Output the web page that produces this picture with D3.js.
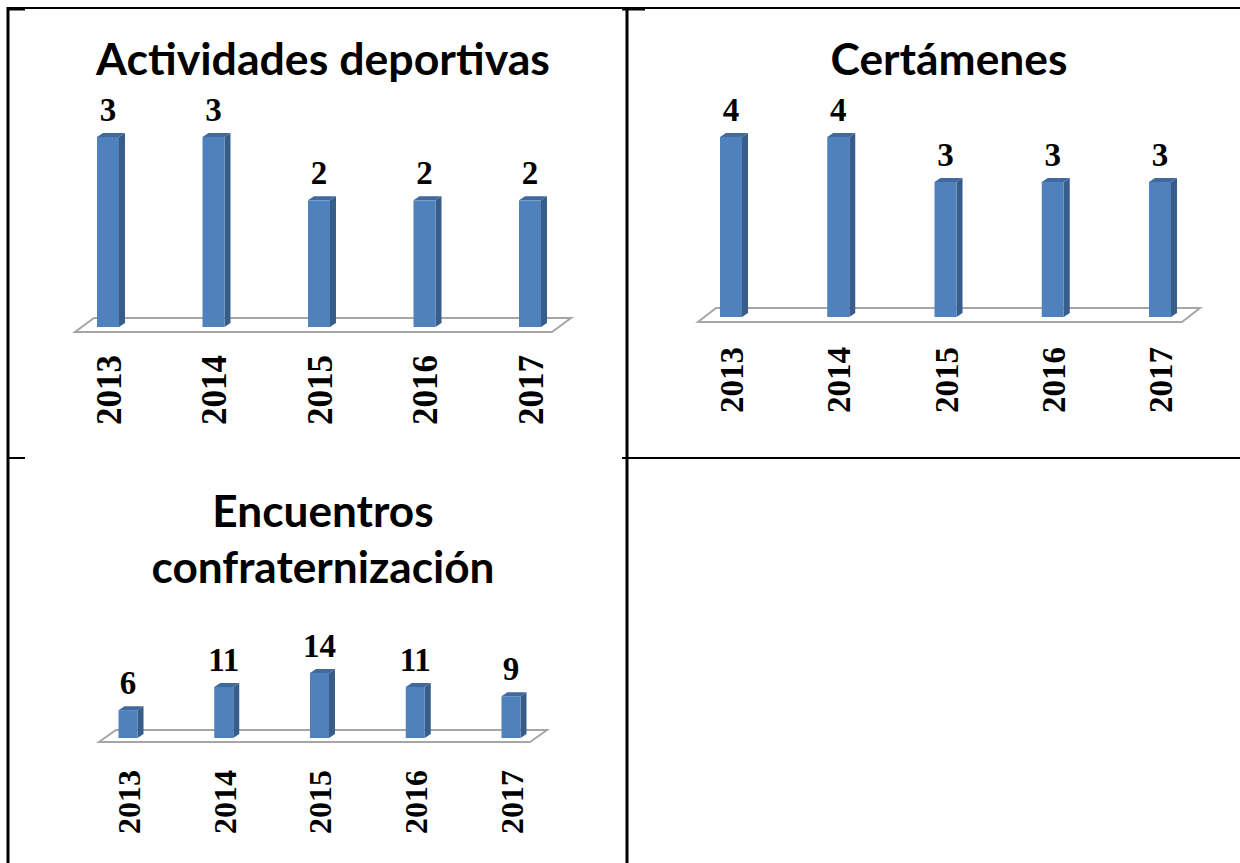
<!DOCTYPE html>
<html>
<head>
<meta charset="utf-8">
<script src="https://cdn.jsdelivr.net/npm/d3@7"></script>
<style>
  body { margin: 0; background: #fff; }
  svg { display: block; }
</style>
</head>
<body>
<svg id="chart" width="1240" height="863"></svg>
<script>
// data
const years = ["2013", "2014", "2015", "2016", "2017"];
const deportivas = [3, 3, 2, 2, 2];
const certamenes = [4, 4, 3, 3, 3];
const encuentros = [6, 11, 14, 11, 9];

const titleDeportivas = ["Actividades deportivas"];
const titleCertamenes = ["Certámenes"];
const titleEncuentros = ["Encuentros", "confraternización"];

const svg = d3.select("#chart");

let colorFront = "#4f81bd";
let colorSide = "#385d8a";
let colorTop = "#40699c";
let floorColor = "#a6a6a6";

// table lines
const grid = svg.append("g").attr("stroke", "#000");
grid.append("line").attr("x1", 8).attr("x2", 1240).attr("y1", 8).attr("y2", 8).attr("stroke-width", 2);
grid.append("line").attr("x1", 8).attr("x2", 25).attr("y1", 9).attr("y2", 9).attr("stroke-width", 3);
grid.append("line").attr("x1", 622).attr("x2", 645).attr("y1", 9).attr("y2", 9).attr("stroke-width", 3);
grid.append("line").attr("x1", 8).attr("x2", 8).attr("y1", 7).attr("y2", 863).attr("stroke-width", 3);
grid.append("line").attr("x1", 627).attr("x2", 627).attr("y1", 7).attr("y2", 863).attr("stroke-width", 3);
grid.append("line").attr("x1", 8).attr("x2", 25).attr("y1", 458).attr("y2", 458).attr("stroke-width", 2);
grid.append("line").attr("x1", 622).attr("x2", 1240).attr("y1", 458).attr("y2", 458).attr("stroke-width", 2);

const drawChart = (values, titles, cfg) => {

    const g = svg.append("g");

    // title, sized so that its longest line fits the measured width
    const t = g.append("g")
    .attr("font-family", "Lato, 'Open Sans', sans-serif")
    .attr("font-weight", "bold")
    .attr("text-anchor", "middle")
    .attr("fill", "#000");

    const longest = titles.reduce((a, b) => (b.length > a.length ? b : a));
    const probe = t.append("text").attr("font-size", 40).text(longest);
    const fs = 40 * cfg.titleWidth / probe.node().getComputedTextLength();
    probe.remove();

    t.selectAll("text")
    .data(titles)
    .join("text")
    .attr("x", cfg.titleX)
    .attr("y", (d, i) => cfg.titleY[i])
    .attr("font-size", fs)
    .text(d => d);

    const x = d3.scalePoint()
    .domain(years)
    .range(cfg.xRange);

    const y = d3.scaleLinear()
    .domain([0, d3.max(values)])
    .range(cfg.yRange);

    const base = y(0);
    const bw = cfg.barW;
    const [dx, dy] = cfg.depth;
    const f = cfg.floor;

    // floor plate
    g.append("path")
    .attr("d", `M${f.left},${f.front} L${f.right},${f.front} L${f.right + f.skew},${f.back} L${f.left + f.skew},${f.back} Z`)
    .attr("fill", "#fff")
    .attr("stroke", floorColor)
    .attr("stroke-width", 2);

    const rows = years.map((yr, i) => ({ year: yr, value: values[i] }));

    const bars = g.selectAll(".bar")
    .data(rows)
    .join("g")
    .attr("class", "bar");

    // side face
    bars.append("path")
    .attr("d", d => {
        const x1 = x(d.year) + bw / 2;
        const top = y(d.value);
        return `M${x1},${top} L${x1 + dx},${top - dy} L${x1 + dx},${base - dy} L${x1},${base} Z`;
    })
    .attr("fill", colorSide);

    // top face
    bars.append("path")
    .attr("d", d => {
        const x0 = x(d.year) - bw / 2;
        const top = y(d.value);
        return `M${x0},${top} L${x0 + dx},${top - dy} L${x0 + bw + dx},${top - dy} L${x0 + bw},${top} Z`;
    })
    .attr("fill", colorTop);

    // front face
    bars.append("rect")
    .attr("x", d => x(d.year) - bw / 2)
    .attr("y", d => y(d.value))
    .attr("width", bw)
    .attr("height", d => base - y(d.value))
    .attr("fill", colorFront);

    // value labels
    g.selectAll(".val")
    .data(rows)
    .join("text")
    .attr("class", "val")
    .attr("x", d => x(d.year))
    .attr("y", d => y(d.value) - 16)
    .attr("text-anchor", "middle")
    .attr("font-family", "'Liberation Serif', 'Times New Roman', serif")
    .attr("font-weight", "bold")
    .attr("font-size", cfg.valSize)
    .text(d => d.value);

    // category labels, rotated
    g.selectAll(".cat")
    .data(years)
    .join("text")
    .attr("class", "cat")
    .attr("transform", d => `translate(${x(d) + 1},${cfg.labelTop}) rotate(-90)`)
    .attr("text-anchor", "end")
    .attr("dy", "0.34em")
    .attr("font-family", "'Liberation Serif', 'Times New Roman', serif")
    .attr("font-weight", "bold")
    .attr("font-size", cfg.catSize)
    .text(d => d);
}

drawChart(deportivas, titleDeportivas, {
    titleX: 323, titleY: [75], titleWidth: 454,
    xRange: [108, 530], yRange: [327, 137],
    barW: 22, depth: [6, 4],
    floor: { left: 75, right: 552, front: 332, back: 318, skew: 19 },
    labelTop: 355, valSize: 33, catSize: 35
});

drawChart(certamenes, titleCertamenes, {
    titleX: 949, titleY: [75], titleWidth: 237,
    xRange: [731, 1160], yRange: [317, 137],
    barW: 22, depth: [6, 4],
    floor: { left: 698, right: 1182, front: 322, back: 308, skew: 18 },
    labelTop: 347, valSize: 33, catSize: 33
});

drawChart(encuentros, titleEncuentros, {
    titleX: 323, titleY: [527, 583], titleWidth: 343,
    xRange: [128, 511], yRange: [738, 673],
    barW: 19, depth: [6, 4],
    floor: { left: 99, right: 530, front: 742, back: 730, skew: 17 },
    labelTop: 770, valSize: 33, catSize: 32
});
</script>
</body>
</html>
